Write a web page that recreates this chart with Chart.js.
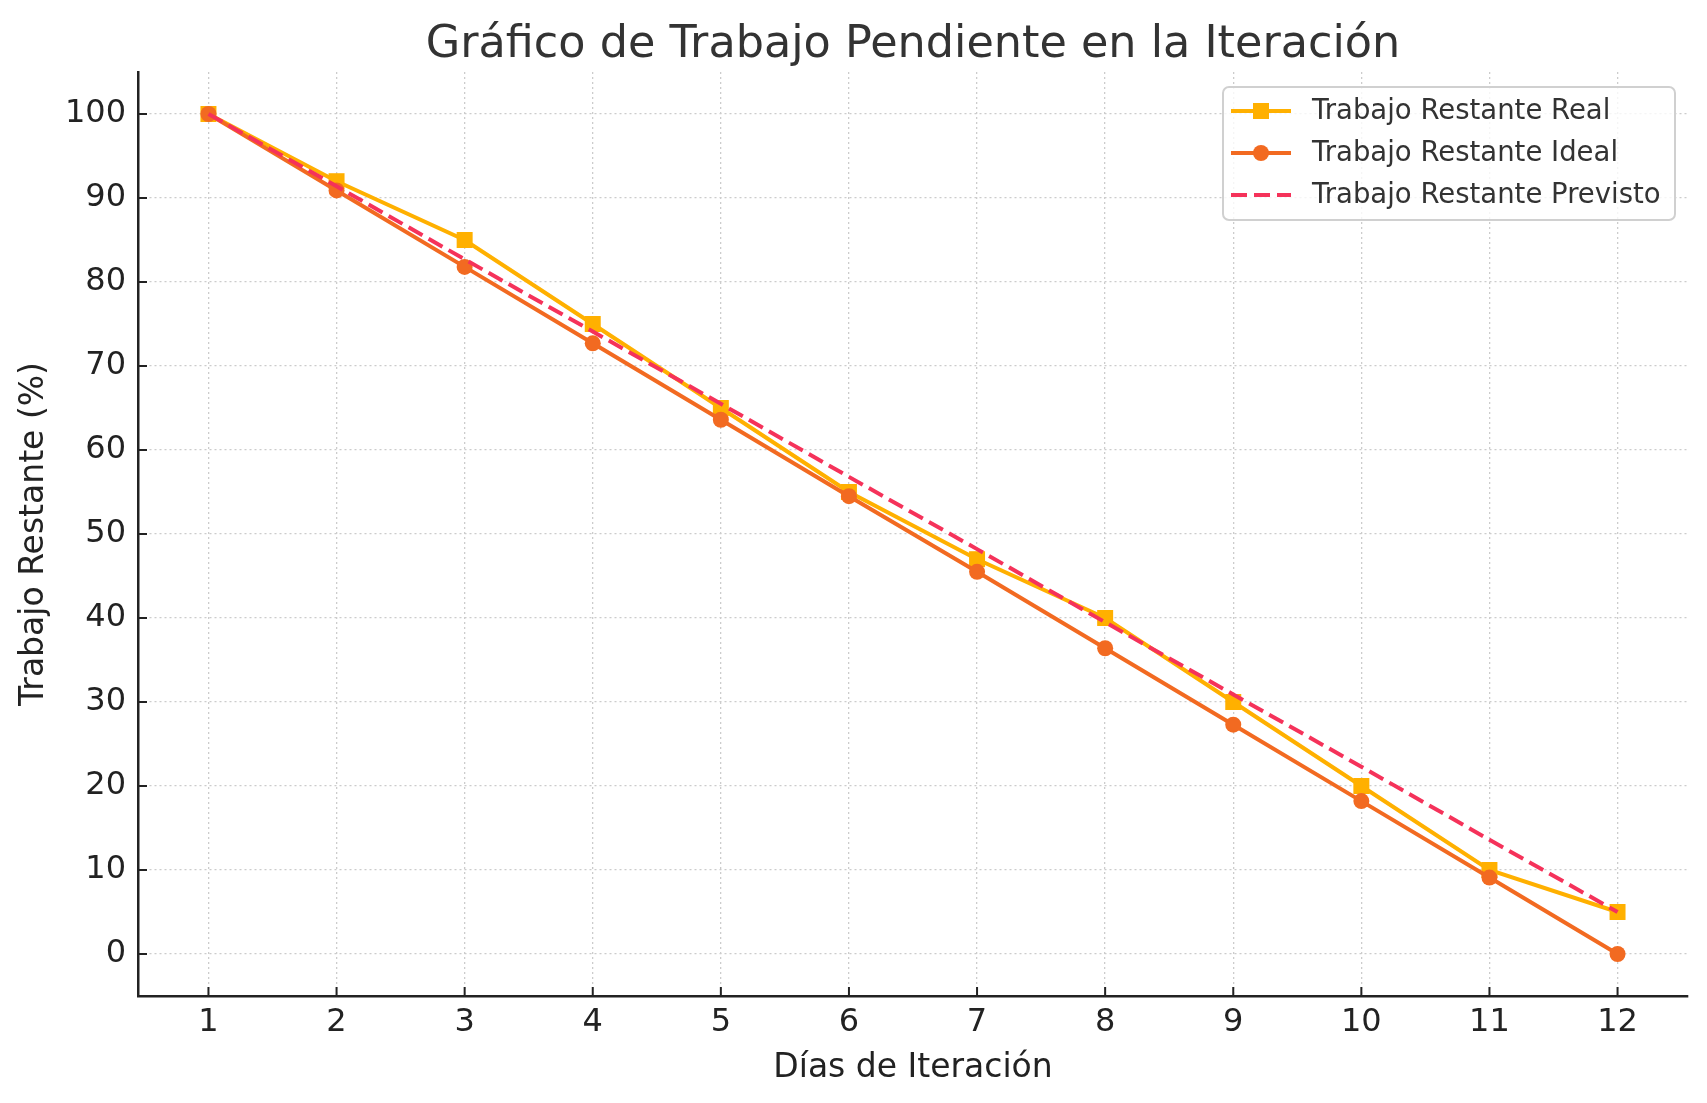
<!DOCTYPE html>
<html>
<head>
<meta charset="utf-8">
<script src="https://cdn.jsdelivr.net/npm/chart.js@4"></script>
<style>
  html, body { margin: 0; padding: 0; background: #fff; }
  canvas { display: block; }
</style>
</head>
<body>
<canvas id="burndown" width="1707" height="1103"></canvas>
<script>
const chartTitle = 'Gráfico de Trabajo Pendiente en la Iteración';
const days = [1, 2, 3, 4, 5, 6, 7, 8, 9, 10, 11, 12];
const realRemaining = [100, 92, 85, 75, 65, 55, 47, 40, 30, 20, 10, 5];
const idealRemaining = [100, 90.9, 81.8, 72.7, 63.6, 54.5, 45.5, 36.4, 27.3, 18.2, 9.1, 0];
const forecastRemaining = [100, 91.4, 82.7, 74.1, 65.5, 56.8, 48.2, 39.5, 30.9, 22.3, 13.6, 5];
const yTicks = [0, 10, 20, 30, 40, 50, 60, 70, 80, 90, 100];
const seriesNames = ['Trabajo Restante Real', 'Trabajo Restante Ideal', 'Trabajo Restante Previsto'];

Chart.defaults.font.family = '"DejaVu Sans", sans-serif';

const toPoints = (vals) => vals.map((v, i) => ({ x: days[i], y: v }));

// matplotlib-like extras: centered title, inward ticks, framed legend
const extras = {
    id: 'extras',
    beforeDatasetsDraw(chart) {
        const ctx = chart.ctx;
        const { x, y } = chart.scales;
        ctx.save();
        ctx.strokeStyle = '#222';
        ctx.lineWidth = 2;
        days.forEach(d => {
            const px = x.getPixelForValue(d);
            ctx.beginPath();
            ctx.moveTo(px, x.top);
            ctx.lineTo(px, x.top - 9);
            ctx.stroke();
        });
        yTicks.forEach(v => {
            const py = y.getPixelForValue(v);
            ctx.beginPath();
            ctx.moveTo(y.right, py);
            ctx.lineTo(y.right + 9, py);
            ctx.stroke();
        });
        ctx.restore();
    },
    afterDraw(chart) {
        const ctx = chart.ctx;
        const area = chart.chartArea;
        ctx.save();
        ctx.fillStyle = '#333';
        ctx.font = '44.5px "DejaVu Sans"';
        ctx.textAlign = 'center';
        ctx.textBaseline = 'alphabetic';
        ctx.fillText(chartTitle, (area.left + area.right) / 2, 57);

        // legend box
        const bx = 1223, by = 87, bw = 452, bh = 133;
        ctx.beginPath();
        ctx.roundRect(bx, by, bw, bh, 6);
        ctx.fillStyle = 'rgba(255,255,255,0.8)';
        ctx.fill();
        ctx.strokeStyle = '#d0d0d0';
        ctx.lineWidth = 2;
        ctx.stroke();

        chart.data.datasets.forEach((ds, i) => {
            const cy = 111 + i * 42;
            ctx.beginPath();
            ctx.setLineDash(ds.borderDash || []);
            ctx.strokeStyle = ds.borderColor;
            ctx.lineWidth = ds.borderWidth;
            ctx.moveTo(1231, cy);
            ctx.lineTo(1291, cy);
            ctx.stroke();
            ctx.setLineDash([]);
            if (ds.pointRadius > 0) {
                ctx.fillStyle = ds.pointBackgroundColor;
                ctx.strokeStyle = ds.pointBackgroundColor;
                Chart.helpers.drawPoint(ctx, { pointStyle: ds.pointStyle, radius: ds.pointRadius, borderWidth: 0, rotation: 0 }, 1261, cy);
            }
            ctx.fillStyle = '#333';
            ctx.font = '27.5px "DejaVu Sans"';
            ctx.textAlign = 'left';
            ctx.textBaseline = 'middle';
            ctx.fillText(ds.label, 1312, cy + 1);
        });
        ctx.restore();
    }
};

const ctx = document.getElementById('burndown').getContext('2d');

new Chart(ctx, {
    type: 'line',
    data: {
        datasets: [
            {
                label: seriesNames[0],
                data: toPoints(realRemaining),
                borderColor: '#FFB000',
                backgroundColor: '#FFB000',
                pointBackgroundColor: '#FFB000',
                pointBorderWidth: 0,
                pointStyle: 'rect',
                pointRadius: 11.3,
                borderWidth: 4,
                order: 3
            },
            {
                label: seriesNames[1],
                data: toPoints(idealRemaining),
                borderColor: '#F26A21',
                backgroundColor: '#F26A21',
                pointBackgroundColor: '#F26A21',
                pointBorderWidth: 0,
                pointStyle: 'circle',
                pointRadius: 8,
                borderWidth: 4,
                order: 2
            },
            {
                label: seriesNames[2],
                data: toPoints(forecastRemaining),
                borderColor: '#F5325A',
                backgroundColor: '#F5325A',
                borderDash: [16, 7],
                pointRadius: 0,
                borderWidth: 4,
                order: 1
            }
        ]
    },
    options: {
        responsive: false,
        animation: false,
        devicePixelRatio: 1,
        layout: { padding: { top: 72, right: 19, left: 0, bottom: 0 } },
        plugins: {
            legend: { display: false },
            tooltip: { enabled: false },
            title: { display: false }
        },
        scales: {
            x: {
                type: 'linear',
                min: 0.45,
                max: 12.55,
                afterFit: (s) => { s.height = 107; },
                afterBuildTicks: (s) => { s.ticks = days.map(v => ({ value: v })); },
                grid: { color: '#cccccc', lineWidth: 1.3, drawTicks: false },
                border: { display: true, color: '#222', width: 2.5, dash: [2, 3] },
                ticks: { padding: 7, color: '#222', font: { size: 32 }, autoSkip: false, maxRotation: 0 },
                title: { display: true, text: 'Días de Iteración', color: '#222', font: { size: 33 }, padding: { top: 0, bottom: 15 } }
            },
            y: {
                min: -5,
                max: 105,
                afterFit: (s) => { s.width = 138; },
                afterBuildTicks: (s) => { s.ticks = yTicks.map(v => ({ value: v })); },
                grid: { color: '#cccccc', lineWidth: 1.3, drawTicks: false },
                border: { display: true, color: '#222', width: 2.5, dash: [2, 3] },
                ticks: { padding: 12, color: '#222', font: { size: 32 } },
                title: { display: true, text: 'Trabajo Restante (%)', color: '#222', font: { size: 33 }, padding: { top: 15, bottom: 0 } }
            }
        }
    },
    plugins: [extras]
});
</script>
</body>
</html>
